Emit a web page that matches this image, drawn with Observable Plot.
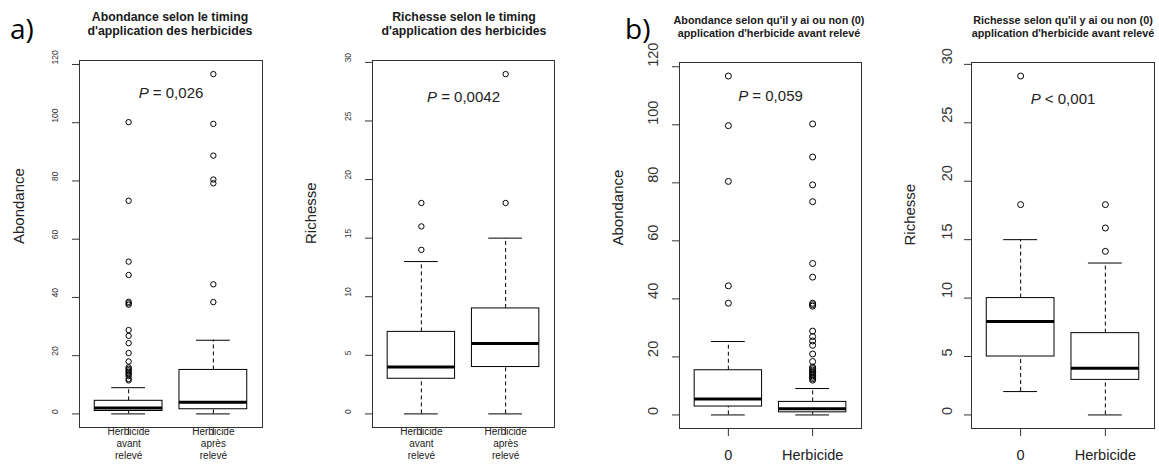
<!DOCTYPE html>
<html>
<head>
<meta charset="utf-8">
<script src="https://cdn.jsdelivr.net/npm/d3@7"></script>
<script src="https://cdn.jsdelivr.net/npm/@observablehq/plot@0.6"></script>
<style>
  html, body { margin: 0; padding: 0; background: #fff; }
  #root { position: relative; width: 1159px; height: 464px; overflow: hidden; background: #fff; font-family: "Liberation Sans", Arial, sans-serif; }
  .panel { position: absolute; top: 0; }
  .title { position: absolute; transform: translateX(-50%); text-align: center; white-space: pre; font-weight: bold; color: #1a1a1a; }
  .tag { position: absolute; font-family: "Open Sans", "Noto Sans", sans-serif; color: #000; line-height: 1; }
</style>
</head>
<body>
<div id="root"></div>
<script>
// ---------- data ----------
const catsTiming = ["Herbicide\navant\nrelevé", "Herbicide\naprès\nrelevé"];
const catsPresence = ["0", "Herbicide"];

const abondanceTicks = [0, 20, 40, 60, 80, 100, 120];
const richesseTicks = [0, 5, 10, 15, 20, 25, 30];

// a) Abondance selon le timing
const abTimLow = [0, 0];
const abTimQ1 = [1, 1.6];
const abTimMed = [2, 4];
const abTimQ3 = [4.5, 15.1];
const abTimHigh = [9, 25.3];
const abTimOut1 = [100.2, 73.2, 52.3, 47.7, 38.5, 38, 37.5, 28.8, 26.8, 24.3, 20.9, 18, 16, 15.5, 15, 14.5, 14, 13.5, 13, 12, 11.5];
const abTimOut2 = [116.7, 99.6, 88.7, 80.5, 79.2, 44.5, 38.4];

// a) Richesse selon le timing
const riTimLow = [0, 0];
const riTimQ1 = [3, 4];
const riTimMed = [4, 6];
const riTimQ3 = [7, 9];
const riTimHigh = [13, 15];
const riTimOut1 = [14, 16, 18];
const riTimOut2 = [18, 29];

// b) Abondance selon présence
const abPreLow = [0, 0];
const abPreQ1 = [2.9, 0.9];
const abPreMed = [5.5, 2.1];
const abPreQ3 = [15.4, 4.5];
const abPreHigh = [25.3, 9.1];
const abPreOut1 = [116.8, 99.7, 80.5, 44.5, 38.5];
const abPreOut2 = [100.3, 88.9, 79.3, 73.5, 52.2, 47.5, 38.5, 38, 37.5, 28.9, 27, 25.5, 24, 21, 18.4, 16.5, 16, 15.5, 15, 14.5, 14, 13.5, 13, 12.5, 12];

// b) Richesse selon présence
const riPreLow = [2, 0];
const riPreQ1 = [5, 3];
const riPreMed = [8, 4];
const riPreQ3 = [10, 7];
const riPreHigh = [15, 13];
const riPreOut1 = [18, 29];
const riPreOut2 = [14, 16, 18];

const pLabels = ["P = 0,026", "P = 0,0042", "P = 0,059", "P < 0,001"];
const pLabelY = [110, 27, 110, 27];

const titles = [
  "Abondance selon le timing\nd'application des herbicides",
  "Richesse selon le timing\nd'application des herbicides",
  "Abondance selon qu'il y ai ou non (0)\napplication d'herbicide avant relevé",
  "Richesse selon qu'il y ai ou non (0)\napplication d'herbicide avant relevé"
];
const yLabels = ["Abondance", "Richesse", "Abondance", "Richesse"];

// ---------- layout ----------
const root = document.getElementById("root");

function makePanel(cfg) {
  const n = cfg.cats.length;
  const boxes = cfg.cats.map((c, i) => ({
    pos: i + 1, cat: c, lo: cfg.low[i], q1: cfg.q1[i], med: cfg.med[i], q3: cfg.q3[i], hi: cfg.high[i]
  }));
  const outs = cfg.outs.flatMap((arr, i) => arr.map(v => ({pos: i + 1, v})));
  const allVals = [...cfg.low, ...cfg.high, ...outs.map(d => d.v)];
  const [mn, mx] = d3.extent(allVals);
  const pad = (mx - mn) * 0.04;
  const xpad = n * 0.04;
  const plot = Plot.plot({
    width: cfg.width,
    height: 464,
    marginLeft: cfg.ml, marginRight: cfg.mr, marginTop: cfg.mt, marginBottom: cfg.mb,
    style: {fontFamily: "'Liberation Sans', Arial, sans-serif", background: "transparent", overflow: "visible", color: "#000"},
    x: {domain: [0.5 - xpad, n + 0.5 + xpad]},
    y: {domain: [mn - pad, mx + pad]},
    marks: [
      Plot.ruleX(boxes, {x: "pos", y1: "q3", y2: "hi", stroke: "#000", strokeDasharray: "4,3"}),
      Plot.ruleX(boxes, {x: "pos", y1: "lo", y2: "q1", stroke: "#000", strokeDasharray: "4,3"}),
      Plot.ruleY(boxes, {y: "hi", x1: d => d.pos - 0.2, x2: d => d.pos + 0.2, stroke: "#000"}),
      Plot.ruleY(boxes, {y: "lo", x1: d => d.pos - 0.2, x2: d => d.pos + 0.2, stroke: "#000"}),
      Plot.rect(boxes, {x1: d => d.pos - 0.4, x2: d => d.pos + 0.4, y1: "q1", y2: "q3", fill: "white", stroke: "#000"}),
      Plot.ruleY(boxes, {y: "med", x1: d => d.pos - 0.4, x2: d => d.pos + 0.4, stroke: "#000", strokeWidth: 3}),
      Plot.dot(outs, {x: "pos", y: "v", r: cfg.r, stroke: "#000", strokeWidth: 1, fill: "none"}),
      Plot.frame({stroke: "#333"}),
      Plot.axisY({ticks: cfg.ticks, tickSize: 7, tickFormat: () => "", label: null, stroke: "#333"}),
      Plot.text(cfg.ticks, {y: d => d, text: d => String(d), frameAnchor: "left", rotate: -90, dx: cfg.tickDx, fontSize: cfg.tickFs, fill: "#333"}),
      Plot.axisX({ticks: boxes.map(d => d.pos), tickSize: 8, tickFormat: () => "", label: null, stroke: "#333"}),
      Plot.text(boxes, {x: "pos", text: "cat", frameAnchor: "bottom", lineAnchor: "top", dy: cfg.catDy, fontSize: cfg.catFs, lineHeight: cfg.catLh, fill: "#222"}),
      Plot.text([cfg.ylab], {text: d => d, frameAnchor: "left", rotate: -90, dx: cfg.ylabDx, fontSize: 15, fill: "#222"}),
      Plot.text([cfg.pLabel], {text: d => d, x: () => (n + 1) / 2, y: () => cfg.pY, fontSize: 15, fill: "#222"})
    ]
  });
  // italic P
  plot.querySelectorAll("text").forEach(t => {
    if (t.textContent === cfg.pLabel) {
      const rest = cfg.pLabel.slice(1);
      t.textContent = "";
      const ns = "http://www.w3.org/2000/svg";
      const a = document.createElementNS(ns, "tspan");
      a.setAttribute("font-style", "italic");
      a.textContent = "P";
      const b = document.createElementNS(ns, "tspan");
      b.textContent = rest;
      t.appendChild(a); t.appendChild(b);
    }
  });
  const wrap = document.createElement("div");
  wrap.className = "panel";
  wrap.style.left = cfg.left + "px";
  wrap.appendChild(plot);
  root.appendChild(wrap);

  const t = document.createElement("div");
  t.className = "title";
  t.textContent = cfg.title;
  t.style.left = cfg.titleX + "px";
  t.style.top = cfg.titleY + "px";
  t.style.fontSize = cfg.titleFs + "px";
  t.style.lineHeight = cfg.titleLh + "px";
  root.appendChild(t);
}

const panels = [
  {left: 0, width: 290, ml: 79, mr: 28, mt: 60, mb: 37, cats: catsTiming,
   low: abTimLow, q1: abTimQ1, med: abTimMed, q3: abTimQ3, high: abTimHigh, outs: [abTimOut1, abTimOut2],
   ticks: abondanceTicks, tickDx: -24, tickFs: 8.5, catDy: -1, catFs: 10, catLh: 1.2, r: 2.7, ylabDx: -60,
   ylab: yLabels[0], pLabel: pLabels[0], pY: pLabelY[0], title: titles[0], titleX: 170, titleY: 10, titleFs: 12.3, titleLh: 14},
  {left: 290, width: 290, ml: 82, mr: 26, mt: 60, mb: 37, cats: catsTiming,
   low: riTimLow, q1: riTimQ1, med: riTimMed, q3: riTimQ3, high: riTimHigh, outs: [riTimOut1, riTimOut2],
   ticks: richesseTicks, tickDx: -24, tickFs: 8.5, catDy: -1, catFs: 10, catLh: 1.2, r: 2.7, ylabDx: -61,
   ylab: yLabels[1], pLabel: pLabels[1], pY: pLabelY[1], title: titles[1], titleX: 464, titleY: 10, titleFs: 12.3, titleLh: 14},
  {left: 580, width: 290, ml: 99, mr: 9, mt: 62, mb: 36, cats: catsPresence,
   low: abPreLow, q1: abPreQ1, med: abPreMed, q3: abPreQ3, high: abPreHigh, outs: [abPreOut1, abPreOut2],
   ticks: abondanceTicks, tickDx: -26, tickFs: 14.5, catDy: 19, catFs: 14.5, catLh: 1.2, r: 3, ylabDx: -61,
   ylab: yLabels[2], pLabel: pLabels[2], pY: pLabelY[2], title: titles[2], titleX: 769, titleY: 14, titleFs: 10.8, titleLh: 12.5},
  {left: 870, width: 289, ml: 101, mr: 5, mt: 62, mb: 36, cats: catsPresence,
   low: riPreLow, q1: riPreQ1, med: riPreMed, q3: riPreQ3, high: riPreHigh, outs: [riPreOut1, riPreOut2],
   ticks: richesseTicks, tickDx: -24, tickFs: 14.5, catDy: 19, catFs: 14.5, catLh: 1.2, r: 3, ylabDx: -61,
   ylab: yLabels[3], pLabel: pLabels[3], pY: pLabelY[3], title: titles[3], titleX: 1063, titleY: 14, titleFs: 10.8, titleLh: 12.5}
];
panels.forEach(makePanel);

["a)", "b)"].forEach((s, i) => {
  const d = document.createElement("div");
  d.className = "tag";
  d.textContent = s;
  d.style.left = (i === 0 ? 10 : 625) + "px";
  d.style.top = "14px";
  d.style.fontSize = "28px";
  root.appendChild(d);
});
</script>
</body>
</html>
